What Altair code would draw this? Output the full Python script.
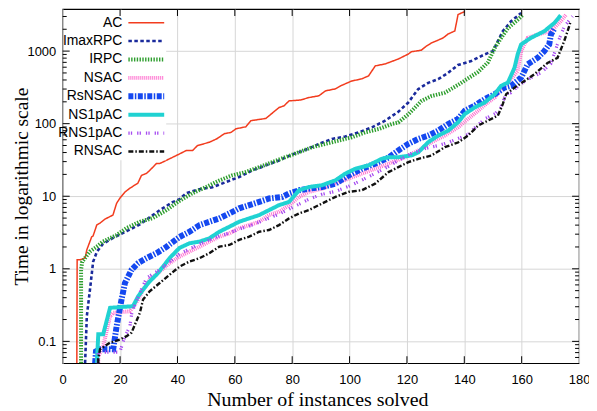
import altair as alt
import pandas as pd

SERIES = ["AC", "ImaxRPC", "IRPC", "NSAC", "RsNSAC", "NS1pAC", "RNS1pAC", "RNSAC"]
COLORS = ["#f23c1e", "#1a2a9c", "#2e9e2e", "#ff6fcf", "#1448f0", "#20d2d2", "#a64cf0", "#111111"]
DASHES = [[1, 0], [3.5, 2.5], [1.4, 1.4], [1, 1], [5, 1.5, 1.5, 1.5], [1, 0], [1.3, 1.2, 1.3, 5], [5, 2, 1.5, 2]]
WIDTHS = [1.5, 2.6, 4, 4, 6, 4, 3.2, 2.4]

ac_x = [4.92, 5.03, 6.07, 7.8, 8.39, 10.12, 10.58, 11.86, 13.0, 14.74, 17.51, 18.79, 19.94, 21.67, 23.41, 26.18,
        27.46, 29.2, 30.34, 32.66, 33.81, 39.6, 43.07, 45.25, 46.98, 51.14, 53.92, 56.35, 58.67, 60.4, 63.87,
        65.6, 70.8, 75.42, 77.15, 78.88, 82.94, 85.82, 89.29, 91.61, 95.08, 96.81, 100.73, 104.2, 106.62,
        108.95, 112.41, 117.02, 120.49, 121.53, 125.0, 126.73, 128.47, 130.89, 132.63, 134.36, 136.69, 137.83, 140.15]
ac_y = [0.05, 1.33, 1.33, 1.41, 1.82, 2.77, 2.83, 4.0, 4.27, 4.84, 5.5, 8.0, 9.4, 11.4, 12.9, 15.1,
        19.4, 20.6, 22.7, 28.2, 28.2, 36.4, 42.6, 42.6, 49.9, 55.5, 62.5, 72.8, 75.8, 85, 90.7,
        110, 118, 167, 176, 206, 212, 229, 242, 283, 302, 331, 387, 414, 455,
        625, 666, 779, 912, 979, 1030, 1168, 1291, 1417, 1521, 1722, 1895, 3200, 3500]

imax_x = [7.8, 8.4, 9.5, 10.6, 11.9, 14.0, 17.5, 22.3, 26.9, 31.4, 33.8, 38.3, 40.7, 43.1, 47.7, 52.2, 56.9,
          61.5, 66.1, 70.8, 75.4, 80.0, 84.7, 89.3, 93.9, 98.5, 103.2, 107.8, 112.4, 117.0, 120.4, 123.9,
          127.4, 130.9, 134.3, 137.8, 142.4, 147.1, 150.0, 151.7, 153.4, 156.3, 159.8]
imax_y = [0.05, 0.222, 0.515, 1.25, 1.71, 2.2, 2.66, 3.3, 4.1, 5.5, 6.4, 8.3, 9.1, 11.0, 12.5, 13.3, 15.7,
          18.4, 22.7, 26.6, 31.1, 37.6, 43.6, 52.7, 61.7, 66.4, 76.0, 89, 110, 146, 194, 299,
          365, 410, 500, 643, 730, 902, 1000, 1371, 1880, 2577, 3348]

irpc_x = [6.4, 6.4, 6.8, 7.8, 9.5, 11.9, 14.0, 18.8, 22.3, 26.9, 31.4, 36.1, 40.2, 45.2, 50.0, 54.6, 59.1,
          63.9, 68.5, 73.1, 77.7, 82.4, 87.0, 91.6, 96.2, 100.8, 105.5, 110.1, 114.7, 117.0, 120.5, 125.1,
          128.6, 133.2, 137.8, 141.3, 144.8, 148.2, 150.6, 152.8, 155.2, 158.6, 160.4]
irpc_y = [0.05, 0.97, 1.25, 1.41, 1.73, 2.02, 2.37, 2.92, 3.65, 4.45, 5.0, 6.4, 8.4, 11.0, 13.4, 16.5, 19.4,
          21.6, 25.2, 29.5, 34.6, 40.5, 47.4, 52.7, 58.5, 65, 75.9, 84.4, 99, 104, 135, 206,
          241, 267, 342, 421, 517, 697, 1105, 1510, 2070, 2693, 3155]

nsac_x = [12.4, 12.4, 14.1, 16.5, 17.6, 23.4, 26.3, 28.0, 30.3, 33.8, 37.3, 40.7, 44.2, 47.7, 51.1, 54.6,
          58.1, 61.5, 65.0, 68.5, 71.9, 75.4, 78.9, 82.4, 85.8, 90.4, 95.1, 99.7, 104.3, 108.9, 113.6,
          119.3, 124.0, 128.6, 133.2, 137.8, 141.3, 144.8, 148.2, 150.6, 152.8, 155.2, 158.6, 159.8, 162.1,
          165.6, 170.2, 173.6, 175.6]
nsac_y = [0.05, 0.062, 0.086, 0.222, 0.247, 0.26, 0.376, 0.515, 0.707, 0.918, 1.2, 1.47, 1.73, 2.02, 2.37, 2.77,
          3.08, 3.61, 4.0, 4.45, 5.5, 6.1, 7.53, 9.78, 11.5, 12.7, 14.9, 17.5, 20.5, 23.9, 28.1,
          34.5, 42.7, 55.5, 68.5, 89, 116, 151, 196, 229, 299, 368, 532, 1000, 1521,
          1694, 1879, 2577, 3213]

rsnsac_x = [11.3, 11.6, 13.0, 17.6, 18.8, 20.5, 21.7, 24.0, 26.3, 29.2, 32.7, 36.1, 40.7, 44.2, 47.7, 51.1,
            54.6, 58.1, 61.5, 65.0, 68.5, 71.9, 76.6, 78.9, 82.4, 85.8, 90.4, 95.1, 99.7, 104.3, 108.9,
            113.6, 117.0, 120.5, 124.0, 127.4, 130.9, 134.4, 137.8, 140.2, 143.6, 147.1, 150.6, 154.0, 156.3,
            159.8, 162.1, 165.6, 167.9, 169.6, 170.2, 171.5]
rsnsac_y = [0.05, 0.073, 0.078, 0.078, 0.162, 0.376, 0.637, 0.97, 1.2, 1.4, 1.64, 2.0, 2.74, 3.24, 4.0, 4.45,
            4.95, 5.8, 6.8, 7.53, 8.36, 9.3, 9.78, 10.9, 12.1, 12.7, 13.4, 14.9, 19.4, 23.9, 28.1,
            34.2, 42.7, 52.7, 61.7, 68.5, 80.2, 99, 116, 151, 177, 218, 255, 314, 332,
            431, 658, 809, 1000, 1236, 1694, 2065]

ns1p_x = [11.9, 12.4, 14.1, 16.5, 24.5, 26.3, 28.0, 30.3, 32.7, 35.0, 37.3, 40.7, 44.2, 47.7, 51.1, 54.6,
          58.1, 61.5, 65.0, 68.5, 71.9, 75.4, 78.9, 82.4, 85.8, 90.4, 95.1, 98.5, 102.0, 106.6, 111.2,
          113.6, 117.0, 121.6, 124.0, 127.4, 130.9, 134.4, 137.8, 140.2, 143.6, 147.1, 150.6, 152.8, 155.2,
          157.5, 158.6, 159.8, 163.2, 167.9, 171.4, 173.6]
ns1p_y = [0.05, 0.125, 0.125, 0.29, 0.305, 0.418, 0.515, 0.67, 0.83, 1.075, 1.41, 1.94, 2.25, 2.37, 2.63, 3.24,
          3.8, 4.45, 4.95, 5.5, 6.43, 7.53, 8.36, 12.1, 13.4, 14.2, 16.6, 20.5, 23.9, 26.6, 32.8,
          34.5, 34.5, 36.5, 40.4, 55.5, 68.5, 80.2, 104, 136, 167, 196, 255, 332, 368,
          590, 901, 1236, 1521, 1879, 2443, 3113]

rns1p_x = [12.3, 12.4, 19.9, 21.7, 23.4, 24.1, 26.9, 29.3, 33.8, 37.3, 40.7, 44.2, 47.7, 51.1, 54.6, 58.1,
           61.5, 65.0, 68.5, 71.9, 75.4, 78.9, 82.4, 85.8, 90.3, 95.2, 99.7, 104.2, 109.0, 113.6, 117.0,
           121.5, 126.4, 130.9, 134.4, 137.8, 141.3, 143.7, 147.2, 150.7, 152.7, 154.5, 156.2, 159.7, 163.1,
           166.6, 170.1, 173.2, 174.9, 177.7]
rns1p_y = [0.05, 0.071, 0.071, 0.117, 0.16, 0.25, 0.47, 0.75, 0.97, 1.25, 1.6, 1.88, 2.2, 2.5, 2.83, 3.11,
           3.53, 3.88, 4.4, 5.0, 5.67, 6.64, 7.77, 9.1, 10.6, 11.7, 13.7, 16.6, 20.7, 25.8, 31.1,
           38.8, 45.5, 50, 55, 62.3, 70.7, 88, 117, 137, 166, 258, 266, 353, 427,
           500, 664, 1507, 2200, 3015]

rnsac_x = [12.4, 12.4, 13.0, 16.5, 19.9, 22.3, 24.0, 26.9, 28.0, 30.3, 33.8, 37.3, 40.7, 44.2, 47.7, 51.1,
           54.6, 58.1, 61.5, 65.0, 68.5, 71.9, 75.4, 78.9, 82.4, 85.8, 90.4, 95.1, 99.7, 104.3, 108.9,
           113.6, 117.0, 120.5, 124.0, 128.6, 133.2, 137.8, 141.3, 144.8, 148.2, 151.7, 153.4, 154.6, 157.5,
           161.0, 164.4, 167.3, 169.0, 172.5, 174.8, 176.0, 177.1]
rnsac_y = [0.05, 0.057, 0.078, 0.096, 0.106, 0.118, 0.132, 0.247, 0.376, 0.489, 0.637, 0.83, 1.07, 1.26, 1.4, 1.64,
           2.02, 2.13, 2.5, 2.77, 3.24, 3.42, 4.0, 4.95, 5.8, 6.43, 7.94, 9.78, 11.5, 12.1, 14.9,
           21.5, 25.2, 29.5, 32.8, 36.5, 47.4, 55, 68.5, 94, 110, 129, 186, 255, 314,
           388, 480, 604, 685, 809, 1371, 1879, 2577]

X_TICKS = [0, 20, 40, 60, 80, 100, 120, 140, 160, 180]
Y_MAJOR = [0.1, 1, 10, 100, 1000]
Y_MINOR = [0.06, 0.07, 0.08, 0.09,
           0.2, 0.3, 0.4, 0.5, 0.6, 0.7, 0.8, 0.9,
           2, 3, 4, 5, 6, 7, 8, 9,
           20, 30, 40, 50, 60, 70, 80, 90,
           200, 300, 400, 500, 600, 700, 800, 900,
           2000, 3000]

series_data = [(ac_x, ac_y), (imax_x, imax_y), (irpc_x, irpc_y), (nsac_x, nsac_y),
               (rsnsac_x, rsnsac_y), (ns1p_x, ns1p_y), (rns1p_x, rns1p_y), (rnsac_x, rnsac_y)]

rows = []
for name, (xs, ys) in zip(SERIES, series_data):
    for i, (xv, yv) in enumerate(zip(xs, ys)):
        rows.append({"series": name, "x": xv, "y": yv, "i": i})
df = pd.DataFrame(rows)

W, H = 519, 356
x_scale = alt.Scale(domain=[0, 180], nice=False, zero=False)
y_scale = alt.Scale(type="log", domain=[0.05, 3800], nice=False)

x_axis = alt.Axis(values=X_TICKS, grid=True, gridColor="#d6d6d6", gridWidth=1, tickSize=0, domain=False,
                  labelPadding=10, labelFlush=False, labelOverlap=False,
                  title="Number of instances solved", titleFontSize=20,
                  titleX=256, titleY=37, titleBaseline="middle", titleAlign="center")
y_axis = alt.Axis(values=Y_MAJOR, grid=True, gridColor="#d6d6d6", gridWidth=1, tickSize=0, domain=False,
                  labelPadding=7, labelFlush=False, labelOverlap=False, format="~g",
                  title="Time in logarithmic scale", titleFontSize=19.5,
                  titleX=-41, titleY=H / 2, titleAngle=270, titleBaseline="middle", titleAlign="center")

X_ENC = alt.X("x:Q", scale=x_scale, axis=x_axis)
Y_ENC = alt.Y("y:Q", scale=y_scale, axis=y_axis)

layers = []
for k, name in enumerate(SERIES):
    layers.append(
        alt.Chart(df).transform_filter(alt.datum.series == name).mark_line(
            color=COLORS[k], strokeDash=DASHES[k], strokeWidth=WIDTHS[k], clip=True,
            strokeCap="butt", strokeJoin="miter", interpolate="linear"
        ).encode(x=X_ENC, y=Y_ENC, order=alt.Order("i:Q"))
    )

# legend box and entries
one = pd.DataFrame({"k": [0]})
layers.append(
    alt.Chart(one).mark_rect(fill="white").encode(
        x=alt.value(1), x2=alt.value(104), y=alt.value(1), y2=alt.value(152)
    )
)
for k, name in enumerate(SERIES):
    yy = 13.7 + k * 18.5
    lab = pd.DataFrame({"series": [name]})
    layers.append(
        alt.Chart(lab).mark_text(align="right", baseline="middle", font="Liberation Sans",
                                 fontSize=14, color="black").encode(
            x=alt.value(60), y=alt.value(yy), text="series:N")
    )
    layers.append(
        alt.Chart(lab).mark_rule(color=COLORS[k], strokeDash=DASHES[k], strokeWidth=WIDTHS[k],
                                 strokeCap="butt").encode(
            x=alt.value(66), x2=alt.value(102), y=alt.value(yy))
    )

# inward tick marks (gnuplot style)
xt = pd.DataFrame({"x": X_TICKS[1:-1]})
ymaj = pd.DataFrame({"y": Y_MAJOR})
ymin = pd.DataFrame({"y": Y_MINOR})
for (x0, x1) in [(0, 7), (W - 7, W)]:
    layers.append(alt.Chart(ymaj).mark_rule(color="black", strokeWidth=1).encode(
        y=Y_ENC, x=alt.value(x0), x2=alt.value(x1)))
for (x0, x1) in [(0, 4), (W - 4, W)]:
    layers.append(alt.Chart(ymin).mark_rule(color="black", strokeWidth=1).encode(
        y=Y_ENC, x=alt.value(x0), x2=alt.value(x1)))
for (y0, y1) in [(0, 7), (H - 7, H)]:
    layers.append(alt.Chart(xt).mark_rule(color="black", strokeWidth=1).encode(
        x=X_ENC, y=alt.value(y0), y2=alt.value(y1)))

chart = alt.layer(*layers).properties(
    width=W, height=H,
    padding={"left": 55, "top": 0, "right": 10, "bottom": 47},
    autosize=alt.AutoSizeParams(type="none"),
).configure_axis(
    labelFont="Liberation Sans", labelFontSize=13, labelColor="black",
    titleFont="Liberation Serif", titleFontWeight="normal", titleColor="black",
).configure_view(stroke="black", strokeWidth=1.2)

chart.save("out.html", embed_options={"renderer": "svg", "actions": False})
